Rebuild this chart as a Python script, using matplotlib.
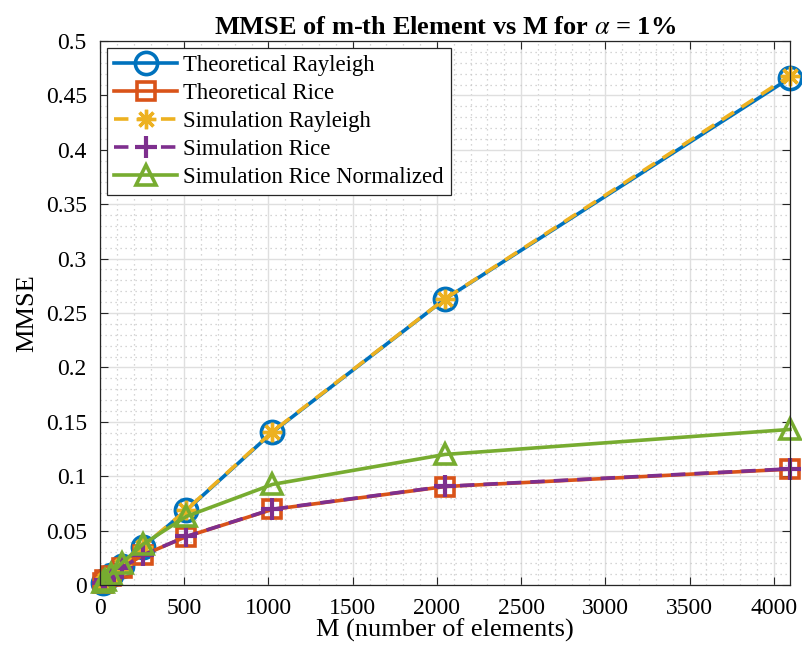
import matplotlib
matplotlib.use("Agg")
import matplotlib.pyplot as plt
from matplotlib.ticker import MultipleLocator, FuncFormatter

M = [16, 32, 64, 128, 256, 512, 1024, 2048, 4096]
theo_rayleigh = [0.0022, 0.0044, 0.0088, 0.0176, 0.0352, 0.0685, 0.1405, 0.2628, 0.4660]
theo_rice = [0.0021, 0.0042, 0.0082, 0.0158, 0.0275, 0.0445, 0.0695, 0.0905, 0.1065]
sim_rayleigh = [0.0022, 0.0045, 0.0089, 0.0177, 0.0354, 0.0690, 0.1410, 0.2630, 0.4680]
sim_rice = [0.0021, 0.0042, 0.0082, 0.0158, 0.0276, 0.0446, 0.0697, 0.0907, 0.1068]
sim_rice_norm = [0.0025, 0.0050, 0.0100, 0.0200, 0.0375, 0.0630, 0.0925, 0.1200, 0.1430]
labels = ["Theoretical Rayleigh", "Theoretical Rice", "Simulation Rayleigh",
          "Simulation Rice", "Simulation Rice Normalized"]

plt.rcParams['font.family'] = ['Liberation Serif', 'DejaVu Serif']
plt.rcParams['mathtext.fontset'] = 'stix'

fig = plt.figure(figsize=(8.03, 6.60), dpi=100)
ax = fig.add_axes([0.1245, 0.1136, 0.8593, 0.8243])

lw = 2.6
kw = dict(clip_on=False)
ax.plot(M, theo_rayleigh, '-o', color='#0072BD', lw=lw, ms=16, mfc='none', mew=2.6, label=labels[0], **kw)
ax.plot(M, theo_rice, '-s', color='#D95319', lw=lw, ms=13, mfc='none', mew=2.6, label=labels[1], **kw)
ax.plot(M, sim_rayleigh, '--', marker=(8, 2, 0), color='#EDB120', lw=lw, ms=14, mew=2.4,
        dashes=(4, 2.5), label=labels[2], **kw)
ax.plot(M, sim_rice, '--+', color='#7E2F8E', lw=lw, ms=16, mew=3, dashes=(4, 2.5), label=labels[3], **kw)
ax.plot(M, sim_rice_norm, '-^', color='#77AC30', lw=lw, ms=15, mfc='none', mew=2.6, label=labels[4], **kw)

ax.set_xlim(0, 4096)
ax.set_ylim(0, 0.5)
ax.xaxis.set_major_locator(MultipleLocator(500))
ax.yaxis.set_major_locator(MultipleLocator(0.05))
ax.xaxis.set_minor_locator(MultipleLocator(100))
ax.yaxis.set_minor_locator(MultipleLocator(0.01))
ax.yaxis.set_major_formatter(FuncFormatter(lambda v, p: ('%g' % round(v, 2))))

ax.grid(True, which='major', color='#dfdfdf', lw=1.0, ls='-')
ax.grid(True, which='minor', color='#c8c8c8', lw=0.9, ls=(0, (1, 3)))
ax.set_axisbelow(True)
ax.tick_params(which='major', direction='in', top=True, right=True, length=6,
               width=0.8, colors='#262626', labelsize=17)
ax.tick_params(axis='x', which='major', pad=9)
ax.tick_params(axis='y', which='major', pad=9.5)
ax.tick_params(which='minor', length=0)
for s in ax.spines.values():
    s.set_color('#262626')
    s.set_linewidth(0.9)
for t in ax.get_xticklabels() + ax.get_yticklabels():
    t.set_color('black')

ax.set_xlabel('M (number of elements)', fontsize=19, labelpad=0)
ax.set_ylabel('MMSE', fontsize=19, labelpad=5)
ax.set_title(r'MMSE of m-th Element vs M for $\alpha$ = 1%', fontsize=19, fontweight='bold', pad=5)

leg = ax.legend(loc='upper left', fontsize=16.4, handlelength=2.8, handletextpad=0.25,
                borderpad=0.3, labelspacing=0.31, fancybox=False, framealpha=1,
                edgecolor='#262626', bbox_to_anchor=(0.0, 1.0), borderaxespad=0.3)
leg.get_frame().set_linewidth(0.9)

fig.savefig('out.png', dpi=100)
